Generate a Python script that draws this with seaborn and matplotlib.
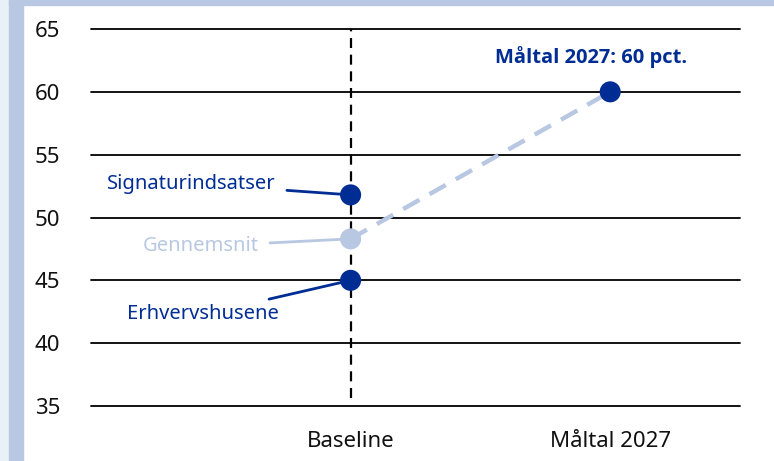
import matplotlib
matplotlib.use("Agg")
import matplotlib.pyplot as plt
import seaborn as sns
import pandas as pd
from matplotlib.patches import Rectangle

# Data
categories = ["Baseline", "Måltal 2027"]
point_labels = ["Signaturindsatser", "Gennemsnit", "Erhvervshusene"]
baseline_values = [51.8, 48.3, 45.0]
target_value = 60.0
avg_path = [48.3, 60.0]
yticks = [35, 40, 45, 50, 55, 60, 65]
target_label = "Måltal 2027: 60 pct."

DARK = "#002d94"
LIGHT = "#b8c8e2"

sns.set_theme(style="white")
plt.rcParams["font.family"] = ["Noto Sans", "DejaVu Sans"]

fig = plt.figure(figsize=(7.74, 4.61), dpi=100, facecolor="white")
W, H = 774, 461
fig.add_artist(Rectangle((0, 0), 9 / W, 1, transform=fig.transFigure, color="#eaf0f8", zorder=0))
fig.add_artist(Rectangle((9 / W, 0), 14 / W, 1, transform=fig.transFigure, color=LIGHT, zorder=0))
fig.add_artist(Rectangle((9 / W, 1 - 5 / H), 1, 5 / H, transform=fig.transFigure, color=LIGHT, zorder=0))

ax = fig.add_axes([91 / W, 1 - 406 / H, (740 - 91) / W, (406 - 29) / H])
ax.set_facecolor("none")

# gridlines
for y in yticks:
    ax.axhline(y, color="black", lw=1.3, zorder=1, clip_on=False)

# vertical dashed line at baseline
ax.plot([0, 0], [35.6, 65], color="black", lw=1.6, ls=(0, (4.5, 3)), zorder=2)

# average path
df_line = pd.DataFrame({"x": categories, "y": avg_path})
sns.lineplot(data=df_line, x="x", y="y", ax=ax, color=LIGHT, lw=3.2,
             linestyle=(0, (4.2, 2.6)), zorder=3, sort=False)

# points
df_pts = pd.DataFrame({
    "x": [categories[0]] * 3 + [categories[1]],
    "y": baseline_values + [target_value],
    "kind": ["dark", "light", "dark", "dark"],
})
sns.scatterplot(data=df_pts, x="x", y="y", hue="kind",
                palette={"dark": DARK, "light": LIGHT}, s=230,
                edgecolor="none", legend=False, ax=ax, zorder=4)

ax.set_xlim(-1, 1.5)
ax.set_ylim(35, 65)
ax.set_yticks(yticks)
ax.set_xticks([0, 1])
ax.set_xticklabels(categories)
ax.set_xlabel("")
ax.set_ylabel("")
for s in ax.spines.values():
    s.set_visible(False)
ax.tick_params(axis="y", length=0, pad=22, labelsize=16, labelcolor="#111111")
ax.tick_params(axis="x", length=0, pad=18, labelsize=16, labelcolor="#111111")
for t in ax.get_yticklabels():
    t.set_horizontalalignment("right")

# annotations
arrow = dict(arrowstyle="-", lw=2, shrinkA=6, shrinkB=4)
ax.annotate(point_labels[0], xy=(0, baseline_values[0]), xytext=(-0.29, 52.7),
            ha="right", va="center", fontsize=14.5, color=DARK,
            arrowprops=dict(arrow, color=DARK), zorder=5)
ax.annotate(point_labels[1], xy=(0, baseline_values[1]), xytext=(-0.355, 47.7),
            ha="right", va="center", fontsize=14.5, color=LIGHT,
            arrowprops=dict(arrow, color=LIGHT), zorder=5)
ax.annotate(point_labels[2], xy=(0, baseline_values[2]), xytext=(-0.275, 42.3),
            ha="right", va="center", fontsize=14.5, color=DARK,
            arrowprops=dict(arrow, color=DARK), zorder=5)
ax.text(0.925, 62.8, target_label, ha="center", va="center", fontsize=14.5,
        fontweight="bold", color=DARK, family=["Open Sans", "Roboto", "DejaVu Sans"])

fig.savefig("out.png", dpi=100, facecolor="white")
